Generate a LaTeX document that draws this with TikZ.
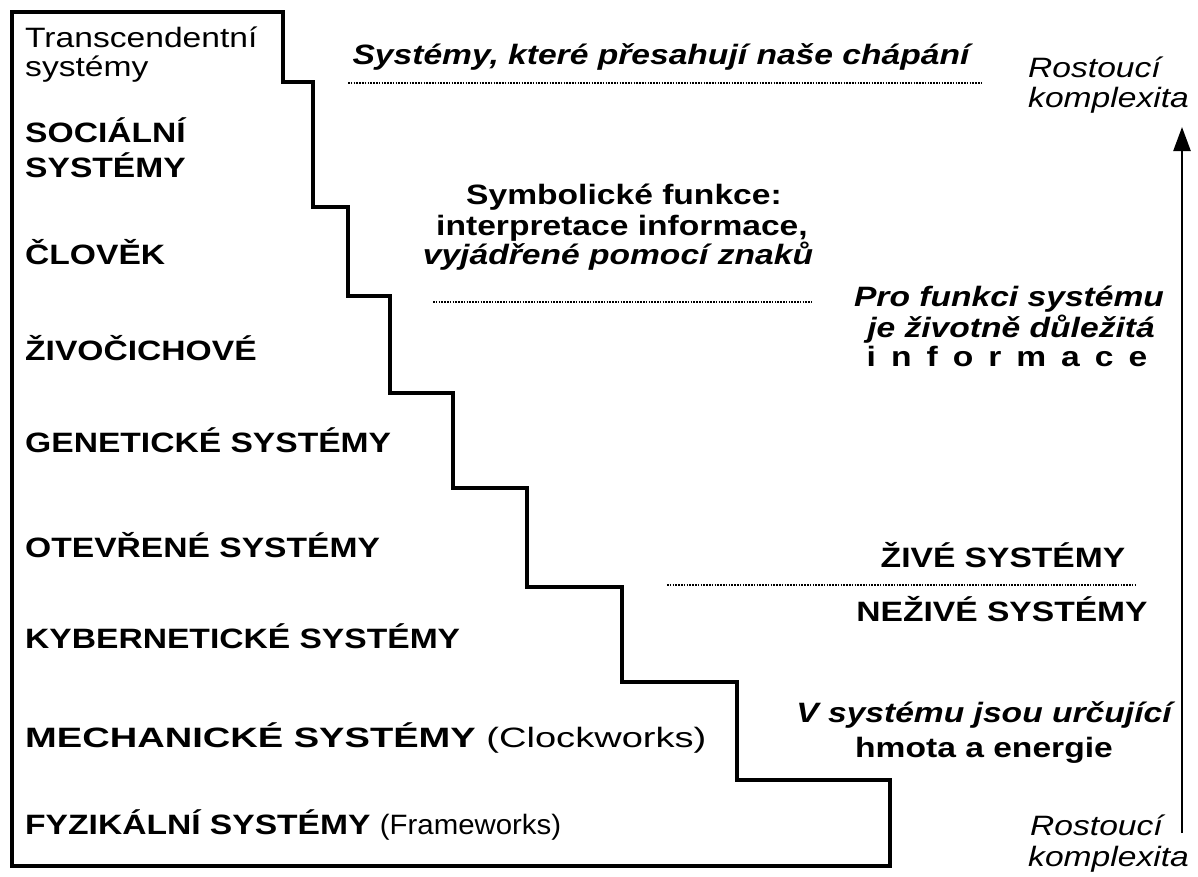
\documentclass[tikz,border=0pt]{standalone}
\usepackage{fontspec}
\setmainfont[FakeStretch=1.2]{Liberation Sans}
\newfontfamily\widefont[FakeStretch=1.36]{Liberation Sans}
\newfontfamily\narrowfont[FakeStretch=1.05]{Liberation Sans}
\usetikzlibrary{arrows.meta}
\begin{document}
\begin{tikzpicture}[x=1pt,y=-1pt,
  base/.style={inner sep=0pt,font=\fontsize{28}{32}\selectfont},
  lbl/.style={base,anchor=base west,font=\fontsize{28}{32}\selectfont\bfseries},
  reg/.style={base,anchor=base west},
  ctr/.style={base,anchor=base,font=\fontsize{28}{32}\selectfont\bfseries},
  ctri/.style={base,anchor=base,font=\fontsize{28}{32}\selectfont\bfseries\itshape},
  itl/.style={base,anchor=base west,font=\fontsize{28}{32}\selectfont\itshape},
  stair/.style={line width=3.5pt,line join=miter},
  dots/.style={line width=2.5pt,dash pattern=on 1.6pt off 1.2pt},
  arr/.style={line width=2.5pt,-{Triangle[length=24pt,width=17pt]}}]
\useasboundingbox (0,0) rectangle (1198,876);
\fill[white] (0,0) rectangle (1198,876);
% staircase outline
\draw[stair] (12,12) -- (283,12) -- (283,82) -- (313,82) -- (313,207) -- (348,207)
  -- (348,296) -- (390,296) -- (390,393) -- (453,393) -- (453,488) -- (527,488)
  -- (527,587) -- (622,587) -- (622,682) -- (737,682) -- (737,780) -- (890,780)
  -- (890,866) -- (12,866) -- cycle;
% left labels
\node[reg] (tr1) at (25,47) {Transcendentní};
\node[reg] (tr2) at (25,76) {systémy};
\node[lbl] (soc1) at (25,142) {SOCIÁLNÍ};
\node[lbl] (soc2) at (25,177) {SYSTÉMY};
\node[lbl] (clo) at (25,264) {ČLOVĚK};
\node[lbl] (ziv) at (25,360) {ŽIVOČICHOVÉ};
\node[lbl] (gen) at (25,452) {GENETICKÉ SYSTÉMY};
\node[lbl] (ote) at (25,557) {OTEVŘENÉ SYSTÉMY};
\node[lbl] (kyb) at (25,648) {KYBERNETICKÉ SYSTÉMY};
\node[lbl] (mech) at (25,747) {\widefont MECHANICKÉ SYSTÉMY {\mdseries (Clockworks)}};
\node[lbl] (fyz) at (25,834) {FYZIKÁLNÍ SYSTÉMY {\narrowfont\mdseries (Frameworks)}};
% middle texts
\node[ctri] (top) at (661,64) {Systémy, které přesahují naše chápání};
\draw[dots] (348,83) -- (983,83);
\node[ctr] (sym1) at (624,204) {Symbolické funkce:};
\node[ctr] (sym2) at (622,235) {interpretace informace,};
\node[ctri] (sym3) at (618,264) {vyjádřené pomocí znaků};
\draw[dots] (433,302) -- (812,302);
\node[ctri] (pro1) at (1009,306) {Pro funkci systému};
\node[ctri] (pro2) at (1011,337) {je životně důležitá};
\node[ctr] (pro3) at (1007,366) {i\hspace{15pt}n\hspace{15pt}f\hspace{15pt}o\hspace{15pt}r\hspace{15pt}m\hspace{15pt}a\hspace{15pt}c\hspace{15pt}e};
\node[ctr] (zs) at (1003,567) {ŽIVÉ SYSTÉMY};
\draw[dots] (667,585) -- (1135,585);
\node[ctr] (ns) at (1002,621) {NEŽIVÉ SYSTÉMY};
\node[ctri] (v1) at (984,722) {V systému jsou určující};
\node[ctr] (v2) at (984,757) {hmota a energie};
% complexity arrow
\node[itl] (r1) at (1028,77) {Rostoucí};
\node[itl] (k1) at (1028,107) {komplexita};
\node[itl] (r2) at (1030,835) {Rostoucí};
\node[itl] (k2) at (1028,866) {komplexita};
\coordinate (abot) at (1182,833);
\coordinate (atop) at (1182,127);
\draw[arr] (abot) -- (atop);
\end{tikzpicture}
\end{document}
